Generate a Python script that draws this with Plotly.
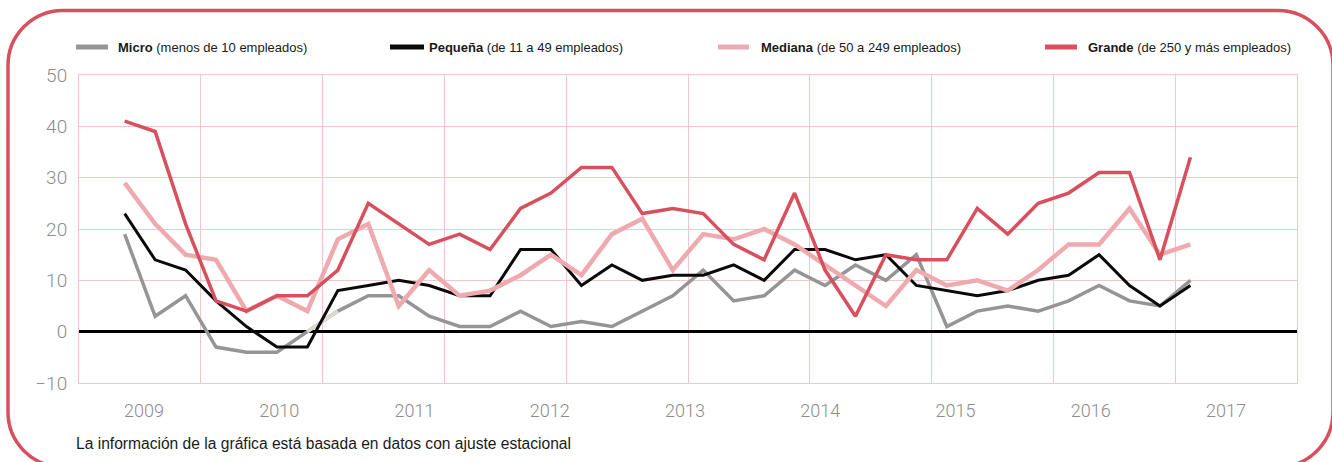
import plotly.graph_objects as go

# ---------------- data ----------------
quarters = [f"{y}-T{q}" for y in range(2009, 2018) for q in range(1, 5)]
micro = [19, 3, 7, -3, -4, -4, 0, 4, 7, 7, 3, 1, 1, 4, 1, 2, 1, 4, 7, 12,
         6, 7, 12, 9, 13, 10, 15, 1, 4, 5, 4, 6, 9, 6, 5, 10]
pequena = [23, 14, 12, 6, 1, -3, -3, 8, 9, 10, 9, 7, 7, 16, 16, 9, 13, 10, 11, 11,
           13, 10, 16, 16, 14, 15, 9, 8, 7, 8, 10, 11, 15, 9, 5, 9]
mediana = [29, 21, 15, 14, 4, 7, 4, 18, 21, 5, 12, 7, 8, 11, 15, 11, 19, 22, 12, 19,
           18, 20, 17, 13, 9, 5, 12, 9, 10, 8, 12, 17, 17, 24, 15, 17]
grande = [41, 39, 21, 6, 4, 7, 7, 12, 25, 21, 17, 19, 16, 24, 27, 32, 32, 23, 24, 23,
          17, 14, 27, 12, 3, 15, 14, 14, 24, 19, 25, 27, 31, 31, 14, 34]
year_labels = ["2009", "2010", "2011", "2012", "2013", "2014", "2015", "2016", "2017"]
y_ticks = [-10, 0, 10, 20, 30, 40, 50]

series_names = ["Micro", "Pequeña", "Mediana", "Grande"]
series_notes = ["(menos de 10 empleados)", "(de 11 a 49 empleados)",
                "(de 50 a 249 empleados)", "(de 250 y más empleados)"]
footnote = "La información de la gráfica está basada en datos con ajuste estacional"

# ---------------- style ----------------
W, H = 1332, 462
L, R, T, B = 79, 1297, 75, 383
C_MICRO = "#959595"
C_PEQ = "#0a0a0a"
C_MED = "#efaab0"
C_GRA = "#d7505d"
C_GRID = "#f3c6cc"
C_TICK = "#8c8c8c"

x = list(range(len(quarters)))
xr = [-1.5, len(quarters) + 2.5]
grid_x = [xr[0] + 4 * k for k in range(11)]
year_pos = [0.635 + 4.442 * k for k in range(len(year_labels))]


def px(xp):
    return (xp - L) / (R - L)


def py(yp):
    return (B - yp) / (B - T)


fig = go.Figure()
fig.add_trace(go.Scatter(x=x, y=micro, mode="lines", name=series_names[0],
                         line=dict(color=C_MICRO, width=3.5), text=quarters))
fig.add_trace(go.Scatter(x=x[6:8], y=micro[6:8], mode="lines", showlegend=False,
                         line=dict(color="#e0dccc", width=3.5), hoverinfo="skip"))
fig.add_trace(go.Scatter(x=x, y=pequena, mode="lines", name=series_names[1],
                         line=dict(color=C_PEQ, width=3), text=quarters))
fig.add_trace(go.Scatter(x=x, y=mediana, mode="lines", name=series_names[2],
                         line=dict(color=C_MED, width=4.5), text=quarters))
fig.add_trace(go.Scatter(x=x, y=grande, mode="lines", name=series_names[3],
                         line=dict(color=C_GRA, width=3.5), text=quarters))

shapes = []
# outer rounded frame
fx0, fy0, fx1, fy1, r = 8, 10.5, 1333, 467, 55
k = 0.5523 * r
path = (f"M {px(fx0 + r)},{py(fy0)} L {px(fx1 - r)},{py(fy0)} "
        f"C {px(fx1 - r + k)},{py(fy0)} {px(fx1)},{py(fy0 + r - k)} {px(fx1)},{py(fy0 + r)} "
        f"L {px(fx1)},{py(fy1 - r)} "
        f"C {px(fx1)},{py(fy1 - r + k)} {px(fx1 - r + k)},{py(fy1)} {px(fx1 - r)},{py(fy1)} "
        f"L {px(fx0 + r)},{py(fy1)} "
        f"C {px(fx0 + r - k)},{py(fy1)} {px(fx0)},{py(fy1 - r + k)} {px(fx0)},{py(fy1 - r)} "
        f"L {px(fx0)},{py(fy0 + r)} "
        f"C {px(fx0)},{py(fy0 + r - k)} {px(fx0 + r - k)},{py(fy0)} {px(fx0 + r)},{py(fy0)} Z")
shapes.append(dict(type="path", xref="paper", yref="paper", path=path,
                   line=dict(color=C_GRA, width=3.5), layer="above"))

# legend swatches + texts
leg_x = [(76, 108, 116), (390, 424, 427), (718, 749, 759), (1045, 1077, 1086)]
leg_c = [C_MICRO, C_PEQ, C_MED, C_GRA]
annotations = []
for (x0, x1, tx), c, nm, note in zip(leg_x, leg_c, series_names, series_notes):
    shapes.append(dict(type="line", xref="paper", yref="paper",
                       x0=px(x0), x1=px(x1), y0=py(47), y1=py(47),
                       line=dict(color=c, width=5)))
    annotations.append(dict(xref="paper", yref="paper", x=px(tx), y=py(47),
                            xanchor="left", yanchor="middle", showarrow=False,
                            text=f"<b>{nm}</b> {note}",
                            font=dict(family="Liberation Sans", size=13, color="#1a1a1a")))

annotations.append(dict(xref="paper", yref="paper", x=px(74), y=py(443),
                        xanchor="left", yanchor="middle", showarrow=False,
                        text=footnote,
                        font=dict(family="Liberation Sans", size=15.6, color="#1a1a1a")))

fig.update_layout(
    width=W, height=H,
    margin=dict(l=L, r=W - R, t=T, b=H - B, pad=0),
    paper_bgcolor="white", plot_bgcolor="white",
    showlegend=False,
    shapes=shapes, annotations=annotations,
    xaxis=dict(range=xr, tickmode="array", tickvals=year_pos, ticktext=year_labels,
               showgrid=False, zeroline=False, ticks="",
               showline=True, mirror=True, linecolor=C_GRID, linewidth=1,
               ticklabelstandoff=11,
               tickfont=dict(family="Roboto", weight=300, size=18, color=C_TICK),
               minor=dict(tickmode="array", tickvals=grid_x, showgrid=True,
                          gridcolor=C_GRID, gridwidth=1, ticks="")),
    yaxis=dict(range=[-10, 50], tickmode="array", tickvals=y_ticks,
               showgrid=True, gridcolor=C_GRID, gridwidth=1,
               zeroline=True, zerolinecolor="#000000", zerolinewidth=3,
               showline=True, mirror=True, linecolor=C_GRID, linewidth=1,
               ticks="", ticklabelstandoff=7,
               tickfont=dict(family="Roboto", weight=300, size=19, color=C_TICK)),
)

fig.write_html("out.html", config={"displayModeBar": False},
               post_script="document.body.style.margin='0';document.body.style.overflow='hidden';")
